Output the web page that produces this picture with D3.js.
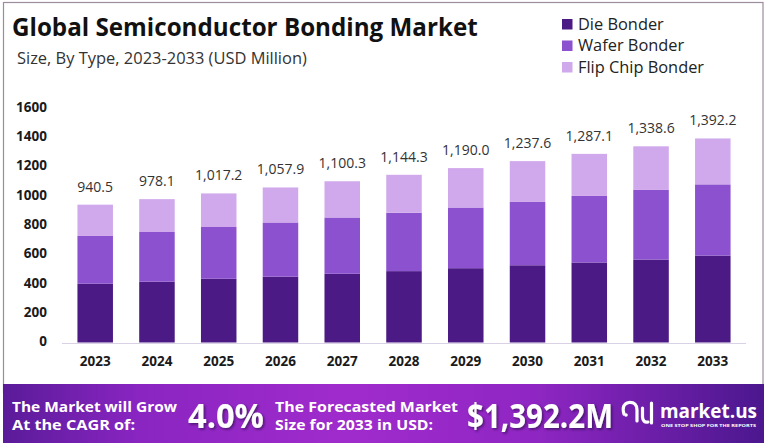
<!DOCTYPE html>
<html><head><meta charset="utf-8">
<script src="https://cdn.jsdelivr.net/npm/d3@7"></script>
<style>body{margin:0;background:#fff}svg{display:block}</style>
</head><body>
<svg id="c" width="768" height="443"></svg>
<script>
const years = ["2023","2024","2025","2026","2027","2028","2029","2030","2031","2032","2033"];
const dieBonder = [401,415,435,449,469,487,507,527,546,566,593];
const waferBonder = [326,339,353,370,384,398,414,432,454,475,486];
const flipChipBonder = [213.5,224.1,229.2,238.9,247.3,259.3,269.0,278.6,287.1,297.6,313.2];
const totalLabels = ["940.5","978.1","1,017.2","1,057.9","1,100.3","1,144.3","1,190.0","1,237.6","1,287.1","1,338.6","1,392.2"];
const yTicks = [0,200,400,600,800,1000,1200,1400,1600];
const seriesNames = ["Die Bonder","Wafer Bonder","Flip Chip Bonder"];
const seriesColors = ["#4c1a84","#8b51cf","#d0a9ec"];

const FONT = "'Open Sans', 'DejaVu Sans', sans-serif";
const svg = d3.select("#c");

function fit(sel, w){
  const n = sel.node(); const L = n.getComputedTextLength();
  const fs = parseFloat(sel.attr("font-size"));
  sel.attr("font-size", (fs*w/L).toFixed(2));
  return sel;
}
function squeeze(sel, w){
  sel.attr("textLength", w).attr("lengthAdjust","spacingAndGlyphs");
  return sel;
}

// border
svg.append("rect").attr("x",3.5).attr("y",2.5).attr("width",759.5).attr("height",390)
  .attr("fill","none").attr("stroke","#9d8c9c").attr("stroke-width",1.2);

// title
fit(svg.append("text").attr("x",12).attr("y",36).attr("font-family",FONT).attr("font-weight",700)
  .attr("font-size",22).attr("fill","#111").text("Global Semiconductor Bonding Market"), 466);
fit(svg.append("text").attr("x",17).attr("y",64).attr("font-family",FONT).attr("font-weight",400)
  .attr("font-size",15).attr("fill","#333").text("Size, By Type, 2023-2033 (USD Million)"), 290);

// legend
const lg = svg.append("g");
const legendY = [24, 45.5, 67];
const ltexts = [];
seriesNames.forEach((s,i)=>{
  lg.append("rect").attr("x",562).attr("y",legendY[i]-5).attr("width",10.5).attr("height",10.5).attr("fill",seriesColors[i]);
  ltexts.push(lg.append("text").attr("x",578).attr("y",legendY[i]+5.5).attr("font-family",FONT)
    .attr("font-size",14.5).attr("fill","#222").text(s));
});
fit(ltexts[2],126);
ltexts.forEach(t=>t.attr("font-size", ltexts[2].attr("font-size")));

// scales
const x = d3.scaleBand().domain(years).range([62,746]).paddingInner(0.425).paddingOuter(0.25);
const y = d3.scaleLinear().domain([0,1600]).range([342.5,108]);

// stack
const rows = years.map((yr,i)=>({year:yr, die:dieBonder[i], wafer:waferBonder[i], flip:flipChipBonder[i]}));
const stack = d3.stack().keys(["die","wafer","flip"])(rows);

const gb = svg.append("g");
stack.forEach((layer,li)=>{
  gb.selectAll(null).data(layer).enter().append("rect")
    .attr("x",d=>x(d.data.year)).attr("width",x.bandwidth())
    .attr("y",d=>y(d[1])).attr("height",d=>y(d[0])-y(d[1]))
    .attr("fill",seriesColors[li]);
});

// axis line
svg.append("line").attr("x1",62).attr("x2",746).attr("y1",343.5).attr("y2",343.5)
  .attr("stroke","#d9d2e6").attr("stroke-width",1.2);

// y axis
const yAxis = d3.axisLeft(y).tickValues(yTicks).tickSize(0).tickPadding(0).tickFormat(d3.format("d"));
const ya = svg.append("g").attr("transform","translate(47,-1)").call(yAxis);
ya.select(".domain").remove();
ya.selectAll("text").attr("font-family",FONT).attr("font-weight",700).attr("font-size",13.5).attr("fill","#1a1a1a");

// x axis
const xAxis = d3.axisBottom(x).tickSize(0).tickPadding(0);
const xa = svg.append("g").attr("transform","translate(0,356)").call(xAxis);
xa.select(".domain").remove();
xa.selectAll("text").attr("font-family",FONT).attr("font-weight",700).attr("font-size",13.5).attr("fill","#1a1a1a");

// totals
svg.append("g").selectAll("text").data(rows).enter().append("text")
  .attr("x",d=>x(d.year)+x.bandwidth()/2)
  .attr("y",(d,i)=>y(dieBonder[i]+waferBonder[i]+flipChipBonder[i])-13)
  .attr("text-anchor","middle").attr("font-family",FONT).attr("font-size",14).attr("fill","#333")
  .text((d,i)=>totalLabels[i]);

// footer
const defs = svg.append("defs");
const gr = defs.append("linearGradient").attr("id","fg").attr("x1","0").attr("x2","1").attr("y1","0").attr("y2","0");
[["0%","#5a1b99"],["18%","#8a25c2"],["45%","#a02bcc"],["70%","#8f26c3"],["100%","#4b178e"]].forEach(s=>
  gr.append("stop").attr("offset",s[0]).attr("stop-color",s[1]));
const f = defs.append("filter").attr("id","sh").attr("x","-10%").attr("y","-20%").attr("width","130%").attr("height","150%");
f.append("feDropShadow").attr("dx",1.5).attr("dy",1.5).attr("stdDeviation",1.2).attr("flood-color","#2a0845").attr("flood-opacity",0.7);

svg.append("rect").attr("x",3).attr("y",384).attr("width",761).attr("height",59).attr("fill","url(#fg)");

const ft = svg.append("g").attr("font-family",FONT).attr("fill","#fff").attr("font-weight",700);
squeeze(ft.append("text").attr("x",12).attr("y",411.5).attr("font-size",15).text("The Market will Grow"),165);
squeeze(ft.append("text").attr("x",12).attr("y",429.5).attr("font-size",15).text("At the CAGR of:"),123);
squeeze(ft.append("text").attr("x",188).attr("y",428).attr("font-size",34).attr("filter","url(#sh)").text("4.0%"),76);
squeeze(ft.append("text").attr("x",275).attr("y",411.5).attr("font-size",15).text("The Forecasted Market"),183);
squeeze(ft.append("text").attr("x",275).attr("y",429.5).attr("font-size",15).text("Size for 2033 in USD:"),158);
squeeze(ft.append("text").attr("x",467).attr("y",428).attr("font-size",34).attr("filter","url(#sh)").text("$1,392.2M"),146);

// logo
const lo = svg.append("g").attr("fill","none").attr("stroke","#fff").attr("stroke-width",3.2).attr("stroke-linecap","round");
lo.append("path").attr("d","M624,414 Q621,404 629,402.5 Q637,402 637,410 L637,421");
lo.append("circle").attr("cx",626).attr("cy",415).attr("r",1.8).attr("fill","#fff").attr("stroke","none");
lo.append("path").attr("d","M642.5,408 L642.5,417 Q643,423 648,422");
lo.append("path").attr("d","M651.5,403 L651.5,423");
squeeze(ft.append("text").attr("x",660).attr("y",418).attr("font-size",20).text("market.us"),97);
squeeze(ft.append("text").attr("x",661).attr("y",426.5).attr("font-size",3.6).attr("font-weight",700)
  .text("ONE STOP SHOP FOR THE REPORTS"),95);
</script>
</body></html>
